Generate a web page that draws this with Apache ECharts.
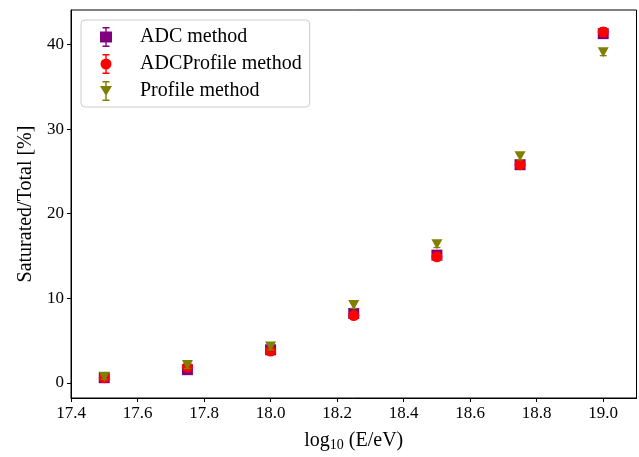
<!DOCTYPE html>
<html>
<head>
<meta charset="utf-8">
<script src="https://cdn.jsdelivr.net/npm/echarts@6/dist/echarts.min.js"></script>
<style>
  html, body { margin: 0; padding: 0; background: #fff; }
  #chart { width: 639px; height: 457px; }
</style>
</head>
<body>
<div id="chart"></div>
<script>
// energy bins, log10(E/eV)
const energies = [17.5, 17.75, 18.0, 18.25, 18.5, 18.75, 19.0];
// saturated fraction [%] per method
const adcVals = [0.6, 1.55, 3.9, 8.2, 15.1, 25.8, 41.3];
const adcErr = [0.3, 0.4, 0.4, 0.4, 0.4, 0.4, 0.5];
const adcProfVals = [0.6, 1.85, 3.75, 7.95, 14.9, 25.8, 41.5];
const adcProfErr = [0.3, 0.4, 0.4, 0.4, 0.4, 0.4, 0.5];
const profVals = [0.7, 2.1, 4.3, 9.2, 16.4, 26.8, 39.1];
const profErr = [0.3, 0.4, 0.4, 0.4, 0.4, 0.4, 0.4];
const xTicks = [17.4, 17.6, 17.8, 18.0, 18.2, 18.4, 18.6, 18.8, 19.0];
const yTicks = [0, 10, 20, 30, 40];

const FONT = "Liberation Serif";

// legend icons: marker with an error bar through it (12 x 20 box)
const iconSquare = "path://M2.5 0H9.5V1.4H6.7V4.5H12V15.5H6.7V18.6H9.5V20H2.5V18.6H5.3V15.5H0V4.5H5.3V1.4H2.5Z";
const iconCircle = "path://M2.5 0H9.5V1.4H6.7V18.6H9.5V20H2.5V18.6H5.3V1.4H2.5Z M0.5 10A5.5 5.5 0 1 1 11.5 10A5.5 5.5 0 1 1 0.5 10Z";
const iconTri = "path://M2.5 0H9.5V1.4H6.7V18.6H9.5V20H2.5V18.6H5.3V1.4H2.5Z M0 5L12 5L6 15Z";

function pts(vals) {
  return energies.map((e, i) => [e, vals[i]]);
}
function errData(vals, errs) {
  return energies.map((e, i) => [e, vals[i] - errs[i], vals[i] + errs[i]]);
}
function errSeries(name, vals, errs, color, z) {
  return {
    name: name,
    type: "custom",
    z: z,
    silent: true,
    data: errData(vals, errs),
    renderItem: function (params, api) {
      const lo = api.coord([api.value(0), api.value(1)]);
      const hi = api.coord([api.value(0), api.value(2)]);
      const w = 3.5;
      const style = { stroke: color, lineWidth: 1.3 };
      return {
        type: "group",
        children: [
          { type: "line", shape: { x1: lo[0], y1: lo[1], x2: hi[0], y2: hi[1] }, style: style },
          { type: "line", shape: { x1: lo[0] - w, y1: lo[1], x2: lo[0] + w, y2: lo[1] }, style: style },
          { type: "line", shape: { x1: hi[0] - w, y1: hi[1], x2: hi[0] + w, y2: hi[1] }, style: style }
        ]
      };
    }
  };
}

const chart = echarts.init(document.getElementById("chart"));
const option = {
  animation: false,
  textStyle: { fontFamily: FONT },
  grid: {
    left: 71, right: 2.5, top: 10, bottom: 58,
    show: true, borderColor: "#000", borderWidth: 1
  },
  legend: {
    left: 81, top: 20,
    orient: "vertical",
    padding: [7, 8, 6, 19],
    itemGap: 7,
    itemWidth: 12,
    itemHeight: 20,
    borderColor: "#ccc",
    borderWidth: 1,
    borderRadius: 4,
    backgroundColor: "#fff",
    textStyle: { fontFamily: FONT, fontSize: 20, color: "#000", padding: [0, 0, 0, 23] },
    data: [
      { name: "ADC method", icon: iconSquare, itemStyle: { color: "#800080" } },
      { name: "ADCProfile method", icon: iconCircle, itemStyle: { color: "#ff0000" } },
      { name: "Profile method", icon: iconTri, itemStyle: { color: "#808000" } }
    ]
  },
  xAxis: {
    type: "value",
    min: 17.4, max: 19.1, interval: 0.2,
    name: "log{sub|10} (E/eV)",
    nameLocation: "middle",
    nameGap: 31,
    nameTextStyle: {
      fontFamily: FONT, fontSize: 20, color: "#000",
      rich: { sub: { fontFamily: FONT, fontSize: 14, verticalAlign: "bottom", padding: [9, 0, 0, 0] } }
    },
    axisLine: { onZero: false, lineStyle: { color: "#000", width: 1 } },
    axisTick: { length: 4, lineStyle: { color: "#000" } },
    axisLabel: {
      fontFamily: FONT, fontSize: 17, color: "#000", margin: 7,
      showMaxLabel: false,
      formatter: v => (xTicks.some(t => Math.abs(t - v) < 1e-6) ? v.toFixed(1) : "")
    },
    splitLine: { show: false }
  },
  yAxis: {
    type: "value",
    min: -1.8, max: 44.1,
    splitNumber: 5,
    name: "Saturated/Total [%]",
    nameLocation: "middle",
    nameGap: 25,
    nameTextStyle: { fontFamily: FONT, fontSize: 20, color: "#000" },
    axisLine: { onZero: false, lineStyle: { color: "#000", width: 1 } },
    axisTick: { length: 4, lineStyle: { color: "#000" } },
    axisLabel: {
      fontFamily: FONT, fontSize: 17, color: "#000", margin: 7,
      showMinLabel: false, showMaxLabel: false,
      formatter: v => (yTicks.includes(Math.round(v * 1000) / 1000) ? String(v) : "")
    },
    splitLine: { show: false }
  },
  series: [
    errSeries("ADC method", adcVals, adcErr, "#800080", 2),
    {
      name: "ADC method", type: "scatter", z: 3,
      symbol: "rect", symbolSize: 11,
      itemStyle: { color: "#800080", opacity: 1 },
      data: pts(adcVals)
    },
    errSeries("ADCProfile method", adcProfVals, adcProfErr, "#ff0000", 4),
    {
      name: "ADCProfile method", type: "scatter", z: 5,
      symbol: "circle", symbolSize: 11,
      itemStyle: { color: "#ff0000", opacity: 1 },
      data: pts(adcProfVals)
    },
    errSeries("Profile method", profVals, profErr, "#808000", 6),
    {
      name: "Profile method", type: "scatter", z: 7,
      symbol: "triangle", symbolRotate: 180, symbolSize: [11, 10],
      itemStyle: { color: "#808000", opacity: 1 },
      data: pts(profVals)
    }
  ]
};
chart.setOption(option);
window.addEventListener("resize", function () {
  chart.resize();
});
</script>
</body>
</html>
